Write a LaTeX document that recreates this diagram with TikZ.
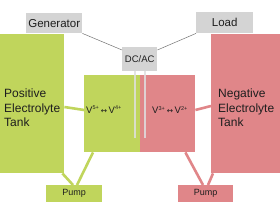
\documentclass[tikz,border=0pt]{standalone}
\usepackage{fontspec}
\setmainfont{Liberation Sans}
\newfontfamily\arrowfont{DejaVu Sans}
\usetikzlibrary{calc}
\definecolor{vgreen}{HTML}{C0D55C}
\definecolor{vred}{HTML}{E08689}
\definecolor{boxgray}{HTML}{D4D4D4}
\definecolor{txt}{HTML}{1E1E1E}
\newcommand{\vsup}[1]{\textsuperscript{\fontsize{5.5}{6}\selectfont #1}}
\newcommand{\varr}{\,{\arrowfont\fontsize{7.5}{8}\selectfont ↔}\,}
\begin{document}
\begin{tikzpicture}[x=1pt,y=-1pt,
  blk/.style={inner sep=0pt, anchor=north west, text=txt},
  gbox/.style={blk, fill=boxgray},
  grn/.style={blk, fill=vgreen},
  rd/.style={blk, fill=vred},
  tanktext/.style={inner sep=0pt, anchor=west, align=left, text=txt, font=\fontsize{12}{14.5}\selectfont},
  wire/.style={draw=gray!90!black, line width=0.5pt},
  pipeg/.style={draw=vgreen, line width=2.6pt},
  piper/.style={draw=vred, line width=2.6pt},
  tap/.style={draw=gray!25, line width=1.8pt, opacity=0.85},
  vlab/.style={inner sep=0pt, text=txt, font=\fontsize{9.5}{10}\selectfont}
]
\useasboundingbox (0,0) rectangle (280,203);
% tanks
\node[grn, minimum width=64pt, minimum height=139pt] (lt) at (0,34) {};
\node[rd, minimum width=69pt, minimum height=139pt] (rt) at (211,34) {};
% cells
\node[grn, minimum width=56pt, minimum height=77pt] (gc) at (84,75) {};
\node[rd, minimum width=55pt, minimum height=77pt] (rc) at (140,75) {};
% pumps
\node[grn, minimum width=56pt, minimum height=17pt, font=\fontsize{9}{10}\selectfont] (gp) at (46,185) {Pump};
\node[rd, minimum width=55pt, minimum height=17pt, font=\fontsize{9}{10}\selectfont] (rp) at (178,185) {Pump};
% gray boxes
\node[gbox, minimum width=56pt, minimum height=20pt, font=\fontsize{11.5}{13}\selectfont] (gen) at (26,13) {Generator};
\node[gbox, minimum width=57pt, minimum height=21pt, font=\fontsize{11.5}{13}\selectfont] (load) at (196,12) {Load};
\node[gbox, minimum width=35pt, minimum height=24pt, font=\fontsize{9.5}{11}\selectfont] (dc) at (122,47) {DC/AC};
% tank texts
\node[tanktext] (ltt) at (4,108) {Positive\\Electrolyte\\Tank};
\node[tanktext] (rtt) at (218,108) {Negative\\Electrolyte\\Tank};
% cell labels
\node[vlab] (gl) at (104,110) {V\vsup{5+}\varr V\vsup{4+}};
\node[vlab] (rl) at (170,110) {V\vsup{3+}\varr V\vsup{2+}};
% wires
\draw[wire] (gen.south east) -- ([yshift=-3pt]dc.north west);
\draw[wire] (load.south west) -- ([yshift=-3pt]dc.north east);
\coordinate (ta) at (135,138);
\coordinate (tb) at (145,138);
\draw[tap] ([xshift=13pt]dc.south west) -- (ta);
\draw[tap] ([xshift=23pt]dc.south west) -- (tb);
% pipes
\draw[pipeg] ([yshift=-73pt]lt.north east) -- ([yshift=-35pt]gc.north west);
\draw[pipeg] ([xshift=-2pt]lt.south east) -- ([xshift=27pt]gp.north west);
\draw[pipeg] ([xshift=9pt]gc.south west) -- ([xshift=31pt]gp.north west);
\draw[piper] ([yshift=-35pt]rc.north east) -- ([yshift=-72pt]rt.north west);
\draw[piper] ([xshift=-10pt]rc.south east) -- ([xshift=25pt]rp.north west);
\draw[piper] ([xshift=2pt]rt.south west) -- ([xshift=30pt]rp.north west);
\end{tikzpicture}
\end{document}
